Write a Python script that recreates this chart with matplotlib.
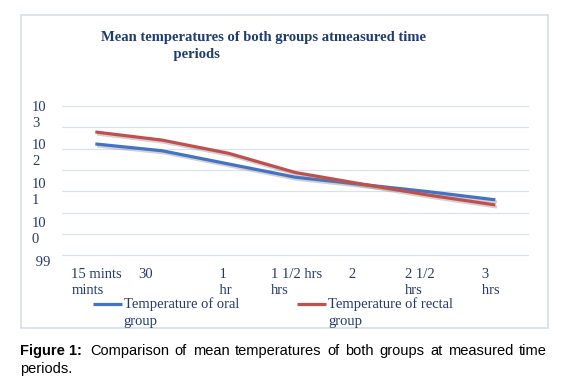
import numpy as np
import matplotlib
matplotlib.use("Agg")
import matplotlib.pyplot as plt
import matplotlib.patheffects as pe
from matplotlib.patches import Rectangle
from matplotlib.ticker import FixedLocator
from matplotlib.transforms import ScaledTranslation
from matplotlib.legend_handler import HandlerLine2D

# ---------------- data ----------------
categories = ["15 mints\nmints", "30", "    1\n    hr", "1 1/2 hrs\nhrs",
              "   2", "2 1/2\nhrs", "   3\n   hrs"]
oral_temp = [101.61, 101.45, 101.14, 100.83, 100.66, 100.49, 100.30]
rectal_temp = [101.89, 101.70, 101.39, 100.94, 100.67, 100.41, 100.18]
series_names = ["Temperature of oral\ngroup", "Temperature of rectal\ngroup"]
ytick_labels = [" 99", "10\n0", "10\n1", "10\n2", "10\n3"]
title = "Mean temperatures of both groups atmeasured time\n                    periods"
caption_bold = "Figure 1:"
caption_line1 = "Comparison of mean temperatures of both groups at measured time"
caption_line2 = "periods."

# ---------------- style ----------------
W, H = 566, 389
BLUE = "#4472c4"
RED = "#c0504d"
NAVY = "#243a6b"
GRID = "#d9e0ee"
SERIF = "Liberation Serif"
SANS = "Liberation Sans"
FS = 10.5

fig = plt.figure(figsize=(W / 100, H / 100), dpi=100)

def px(x, y):
    return x / W, 1 - y / H

# outer chart border
fig.patches.append(Rectangle(px(20.7, 328), (547.7 - 20.7) / W, (328 - 15.3) / H,
                             transform=fig.transFigure, fill=False,
                             edgecolor="#d3dbe8", lw=1.1))

ax_left, ax_right = 62, 528.7
ax_top, ax_bottom = 101.7, 263.8
ax = fig.add_axes([ax_left / W, 1 - ax_bottom / H, (ax_right - ax_left) / W,
                   (ax_bottom - ax_top) / H])
x = np.arange(len(categories))

shadow = [pe.SimpleLineShadow(offset=(1.2, -1.5), shadow_color="#808080", alpha=0.35),
          pe.Normal()]
l1, = ax.plot(x, oral_temp, color=BLUE, lw=2.3, solid_capstyle="butt",
              path_effects=shadow, label=series_names[0])
l2, = ax.plot(x, rectal_temp, color=RED, lw=2.3, solid_capstyle="butt",
              path_effects=shadow, label=series_names[1])

ax.set_xlim(-0.5, len(categories) - 0.5)
ax.set_ylim(98.8, 102.6)
for s in ax.spines.values():
    s.set_visible(False)

# gridlines every 0.5
ax.yaxis.set_minor_locator(FixedLocator(np.arange(99, 102.51, 0.5)))
ax.grid(which="minor", axis="y", color=GRID, lw=0.9)
ax.set_axisbelow(True)

# y labels (wrapped, as in the original)
ax.set_yticks([98.83, 99.56, 100.47, 101.38, 102.28])
ax.set_yticklabels(ytick_labels, fontfamily=SERIF, fontsize=FS, color=NAVY)
ax.tick_params(axis="y", which="both", length=0, pad=21.6)
for t in ax.get_yticklabels():
    t.set_ha("left")
    t.set_va("center")
    t.set_linespacing(1.35)

ax.set_xticks(x)
ax.set_xticklabels(categories, fontfamily=SERIF, fontsize=FS, color=NAVY)
ax.tick_params(axis="x", length=0, pad=3.2)
off = ScaledTranslation(-24 / 100, 0, fig.dpi_scale_trans)
for t in ax.get_xticklabels():
    t.set_ha("left")
    t.set_multialignment("left")
    t.set_linespacing(1.25)
    t.set_transform(t.get_transform() + off)

# title
fig.text(101 / W, 1 - 31.5 / H, title, fontfamily=SERIF, fontsize=FS, fontweight="bold",
         color="#1f3b70", ha="left", va="top", linespacing=1.35)

# legend
class UpHandler(HandlerLine2D):
    def create_artists(self, legend, orig_handle, xdescent, ydescent, width, height,
                       fontsize, trans):
        arts = super().create_artists(legend, orig_handle, xdescent, ydescent, width,
                                      height, fontsize, trans)
        for a in arts:
            a.set_ydata(np.asarray(a.get_ydata()) + 0.6 * fontsize)
            a.set_path_effects([])
        return arts

leg = fig.legend(handles=[l1, l2], labels=series_names, ncol=2, loc="upper left",
                 bbox_to_anchor=px(92.5, 297), bbox_transform=fig.transFigure,
                 frameon=False, borderpad=0, borderaxespad=0, handlelength=2.0,
                 handletextpad=0.15, columnspacing=3.95,
                 prop={"family": SERIF, "size": FS},
                 handler_map={l1: UpHandler(), l2: UpHandler()})
for t in leg.get_texts():
    t.set_color(NAVY)
    t.set_linespacing(1.4)

# caption (justified first line)
renderer = fig.canvas.get_renderer()
fb = fig.text(20 / W, 1 - 351 / H, caption_bold, fontfamily=SANS, fontsize=FS,
              fontweight="bold", ha="left", va="center", color="black")
bb = fb.get_window_extent(renderer)
start = bb.x1 / fig.dpi * 100 + 8
end = 547.0
words = caption_line1.split(" ")
widths = []
tmp = []
for w in words:
    t = fig.text(0, 0, w, fontfamily=SANS, fontsize=FS)
    widths.append(t.get_window_extent(renderer).width)
    tmp.append(t)
for t in tmp:
    t.remove()
gap = (end - start - sum(widths)) / (len(words) - 1)
xpos = start
for w, wd in zip(words, widths):
    fig.text(xpos / W, 1 - 351 / H, w, fontfamily=SANS, fontsize=FS, ha="left",
             va="center", color="black")
    xpos += wd + gap
fig.text(20 / W, 1 - 369 / H, caption_line2, fontfamily=SANS, fontsize=FS,
         ha="left", va="center", color="black")

fig.savefig("out.png", dpi=100)
